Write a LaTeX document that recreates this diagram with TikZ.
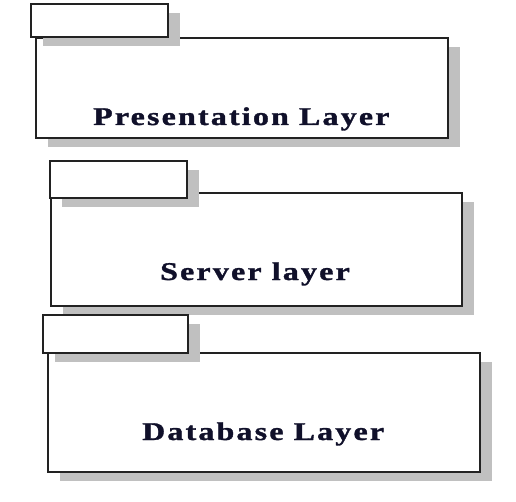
\documentclass[tikz,border=0pt]{standalone}
\usepackage{graphicx}
\usepackage{fontspec}
\setmainfont{Liberation Serif}
\usetikzlibrary{shadows}
\definecolor{linec}{HTML}{222222}
\definecolor{shadc}{HTML}{C0C0C0}
\definecolor{txtc}{HTML}{10102A}
\newcommand{\pkgtext}[1]{\scalebox{1.25}[1]{#1}}
\tikzset{
  pkgshape/.style={draw=linec, fill=white, line width=1.8pt, rectangle, inner sep=0pt, outer sep=0pt,
    anchor=north west,
    drop shadow={shadow xshift=12pt, shadow yshift=-9pt, fill=shadc, opacity=1}},
  lbl/.style={inner sep=0pt, anchor=base west, text=txtc,
    font={\fontsize{25.5pt}{28pt}\selectfont\bfseries\addfontfeature{LetterSpace=7,FakeBold=1.2}}}
}
\begin{document}
\begin{tikzpicture}[x=1pt,y=-1pt]
\useasboundingbox (0,0) rectangle (516,502);
% Presentation layer
\node[pkgshape, minimum width=412pt, minimum height=100pt] (b1) at (36,38) {};
\node[pkgshape, minimum width=137pt, minimum height=33pt] (t1) at (31,4) {};
\node[lbl] (l1) at (93,125) {\pkgtext{Presentation Layer}};
% Server layer
\node[pkgshape, minimum width=411pt, minimum height=113pt] (b2) at (51,193) {};
\node[pkgshape, minimum width=137pt, minimum height=37pt] (t2) at (50,161) {};
\node[lbl] (l2) at (160,280) {\pkgtext{Server layer}};
% Database layer
\node[pkgshape, minimum width=432pt, minimum height=119pt] (b3) at (48,353) {};
\node[pkgshape, minimum width=145pt, minimum height=38pt] (t3) at (43,315) {};
\node[lbl] (l3) at (142,440) {\pkgtext{Database Layer}};
\end{tikzpicture}
\end{document}
